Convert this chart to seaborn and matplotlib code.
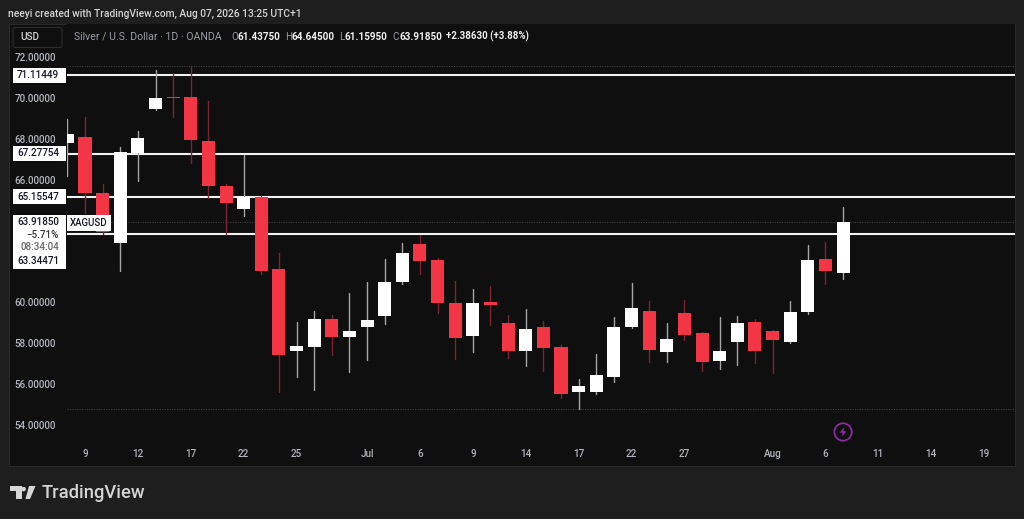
import pandas as pd
import matplotlib.pyplot as plt
from matplotlib.patches import Rectangle, FancyBboxPatch, Polygon, Circle
import seaborn as sns

W, H = 1024, 519

# daily candles, first one is cut by the price column
bars = list(range(-1, 44))
opens = [67.78, 68.10, 65.36, 62.89, 67.29, 69.46, 70.06, 70.03, 67.91, 65.68, 64.57, 65.14, 61.65,
         57.61, 57.83, 59.17, 58.31, 58.81, 59.33, 61.01, 62.87, 62.07, 59.97, 58.36, 60.00, 58.99,
         57.61, 58.78, 57.82, 55.62, 55.62, 56.37, 58.80, 59.58, 57.57, 59.47, 58.52, 57.12, 58.05,
         59.04, 58.60, 58.08, 59.53, 62.11, 61.44]
closes = [68.22, 65.36, 63.43, 67.34, 68.05, 69.98, 70.00, 67.94, 65.71, 64.88, 65.17, 61.55, 57.44,
          57.88, 59.19, 58.31, 58.60, 59.12, 60.98, 62.40, 62.02, 59.99, 58.27, 59.97, 59.87, 57.64,
          58.71, 57.78, 55.51, 55.93, 56.43, 58.80, 59.73, 57.66, 58.21, 58.39, 57.10, 57.62, 58.99,
          57.64, 58.18, 59.52, 62.06, 61.52, 63.92]
highs = [68.97, 69.05, 65.79, 67.60, 68.38, 71.36, 71.23, 71.57, 69.86, 65.79, 67.19, 65.20, 62.40,
         59.03, 59.58, 59.38, 60.46, 61.00, 62.11, 62.90, 63.30, 62.17, 61.05, 60.66, 60.80, 59.38,
         59.69, 59.09, 57.90, 56.24, 57.49, 59.29, 60.95, 60.08, 58.99, 60.10, 58.55, 59.29, 59.33,
         59.19, 58.63, 60.07, 62.81, 62.95, 64.65]
lows = [66.20, 64.39, 63.33, 61.52, 65.94, 69.39, 69.08, 66.83, 65.11, 63.30, 64.24, 61.39, 55.63,
        56.37, 55.72, 57.44, 56.61, 57.18, 58.94, 60.91, 61.39, 59.48, 57.23, 57.59, 58.88, 57.27,
        56.88, 56.63, 55.34, 54.77, 55.52, 56.11, 58.75, 57.07, 57.09, 58.18, 56.66, 56.76, 56.95,
        57.05, 56.56, 58.03, 59.42, 60.91, 61.16]

levels = [71.11449, 67.27754, 65.15547, 63.34471]
level_labels = ['71.11449', '67.27754', '65.15547', '63.34471']
dotted = [71.57, 63.9185, 54.77]
price_ticks = [72, 70, 68, 66, 60, 58, 56, 54]
date_ticks = [0, 3, 6, 9, 12, 16, 19, 22, 25, 28, 31, 34, 39, 42, 45, 48, 51]
date_labels = ['9', '12', '17', '22', '25', 'Jul', '6', '9', '14', '17', '22', '27', 'Aug', '6', '11', '14', '19']

UP = '#ffffff'
DOWN = '#f23645'
UP_WICK = '#a6a6a6'
DOWN_WICK = '#7c2431'
PAGE = '#1e1e1e'
PANEL = '#0f0f0f'
MUTED = '#b2b5be'

sns.set_theme(style='dark', rc={'axes.facecolor': PANEL, 'figure.facecolor': PAGE})
plt.rcParams['font.family'] = ['Roboto', 'DejaVu Sans']

fig = plt.figure(figsize=(W / 100, H / 100), dpi=100)


def fx(px):
    return px / W


def fy(py):
    return 1 - py / H


def put(px, py, s, color=MUTED, size=7.1, weight='medium', ha='left', **kw):
    fig.text(fx(px), fy(py), s, color=color, fontsize=size, fontweight=weight, ha=ha, va='center', zorder=8, **kw)


def box(x0, y0, x1, y1, color='#ffffff', z=6):
    fig.add_artist(Rectangle((fx(x0), fy(y1)), fx(x1 - x0), (y1 - y0) / H, transform=fig.transFigure,
                             facecolor=color, edgecolor='none', zorder=z))


box(8.5, 23.5, 1015.5, 467, color='#2a2a2a', z=-2)
box(9.5, 24.5, 1014.5, 466, color=PANEL, z=-1)

ax = fig.add_axes([fx(67), fy(441), fx(1015 - 67), (441 - 24) / H])

df = pd.DataFrame({'bar': bars, 'open': opens, 'close': closes, 'high': highs, 'low': lows})
df['bottom'] = df[['open', 'close']].min(axis=1)
df['height'] = (df['close'] - df['open']).abs()
df['up'] = df['close'] >= df['open']

for lvl in levels:
    ax.axhline(lvl, color='#f2f2f2', lw=1.5, zorder=1)
for lvl in dotted:
    ax.axhline(lvl, color='#4a4a4a', lw=0.7, ls=(0, (1, 1.5)), zorder=1)

for is_up, body, wick in [(True, UP, UP_WICK), (False, DOWN, DOWN_WICK)]:
    part = df[df['up'] == is_up]
    long = part.melt(id_vars='bar', value_vars=['high', 'low'], value_name='price').sort_values('bar')
    sns.lineplot(data=long, x='bar', y='price', units='bar', estimator=None, color=wick, lw=1, ax=ax,
                 legend=False, zorder=2)
    sns.barplot(data=part, x='bar', y='height', bottom=part['bottom'], native_scale=True, width=0.74,
                color=body, saturation=1, errorbar=None, ax=ax, zorder=3, edgecolor='none', linewidth=0)

ax.set_xlim(-1.02, 52.75)
ax.set_ylim(53.22, 73.61)
ax.set_xticks(date_ticks, date_labels, fontweight='medium')
ax.set_yticks(price_ticks, [f'{p:.5f}' for p in price_ticks], fontweight='medium')
ax.tick_params(axis='both', length=0, labelsize=7.1, labelcolor=MUTED)
ax.tick_params(axis='x', pad=6)
ax.tick_params(axis='y', pad=8)
ax.set_xlabel('')
ax.set_ylabel('')
ax.grid(False)
for s in ax.spines.values():
    s.set_visible(False)

# header + legend row
put(8, 13.5, 'neeyi created with TradingView.com, Aug 07, 2026 13:25 UTC+1', color='#d4d4d4', size=7.4)
fig.add_artist(FancyBboxPatch((fx(13), fy(47.5)), fx(49), 20 / H, boxstyle='round,pad=0,rounding_size=0.003',
                              transform=fig.transFigure, facecolor=PANEL, edgecolor='#2e2e2e', lw=0.8, zorder=5))
put(20, 37.5, 'USD', color='#d4d4d4', size=7.2)
put(73.5, 36.5, 'Silver / U.S. Dollar · 1D · OANDA', size=7.6, color='#9a9da5', weight='normal')
for x_l, label, x_v, val in [(231, 'O', 237.5, '61.43750'), (285, 'H', 291.5, '64.64500'),
                             (339, 'L', 344.5, '61.15950'), (392, 'C', 399.5, '63.91850')]:
    put(x_l, 36.5, label, size=7.1, color='#9a9da5', weight='normal')
    put(x_v, 36.5, val, size=7.1, color='#f0f0f0', weight='bold')
put(446, 36.5, '+2.38630 (+3.88%)', size=7.0, color='#f0f0f0', weight='bold')

# price labels on the scale
for lvl, txt, y in zip(levels[:3], level_labels[:3], [75.5, 153.5, 197]):
    box(13, y - 7.5, 66, y + 7.5)
    put(59, y, txt, color='#131722', ha='right')
box(13, 214.5, 66, 268.5)
put(59, 222, '63.91850', color='#131722', ha='right')
put(59, 234.5, '−5.71%', color='#3a3a3a', ha='right')
put(59, 246.5, '08:34:04', color='#6a6a6a', ha='right')
put(59, 261, level_labels[3], color='#131722', ha='right')
box(67, 214.5, 111, 231)
put(89, 222.5, 'XAGUSD', color='#131722', ha='center', size=6.9)

# lightning marker
marker = fig.add_axes([fx(833), fy(442), fx(20), 20 / H], zorder=7)
marker.set_xlim(-10, 10)
marker.set_ylim(-10, 10)
marker.axis('off')
marker.add_patch(Circle((0, 0), 8.7, facecolor='none', edgecolor='#8e2aa3', lw=1.3))
marker.add_patch(Polygon([(1.5, 5), (-3.5, -0.7), (-0.3, -0.7), (-1.5, -5), (3.5, 0.7), (0.3, 0.7)],
                         facecolor='#8e2aa3', edgecolor='none'))

# TradingView logo
logo = '#d6d6d6'
fig.add_artist(Polygon([(fx(10), fy(486)), (fx(22), fy(486)), (fx(22), fy(499)), (fx(16), fy(499)), (fx(16), fy(491)), (fx(10), fy(491))],
                       transform=fig.transFigure, facecolor=logo, edgecolor='none', zorder=6))
fig.add_artist(Polygon([(fx(29), fy(486)), (fx(35.5), fy(486)), (fx(30), fy(499)), (fx(25.5), fy(499))],
                       transform=fig.transFigure, facecolor=logo, edgecolor='none', zorder=6))
dot = fig.add_axes([fx(21), fy(491.5), fx(5), 5 / H], zorder=7)
dot.set_xlim(-1, 1)
dot.set_ylim(-1, 1)
dot.axis('off')
dot.add_patch(Circle((0, 0), 0.95, facecolor=logo, edgecolor='none'))
put(42, 493, 'TradingView', color=logo, size=13.2)

fig.savefig('out.png', dpi=100)
